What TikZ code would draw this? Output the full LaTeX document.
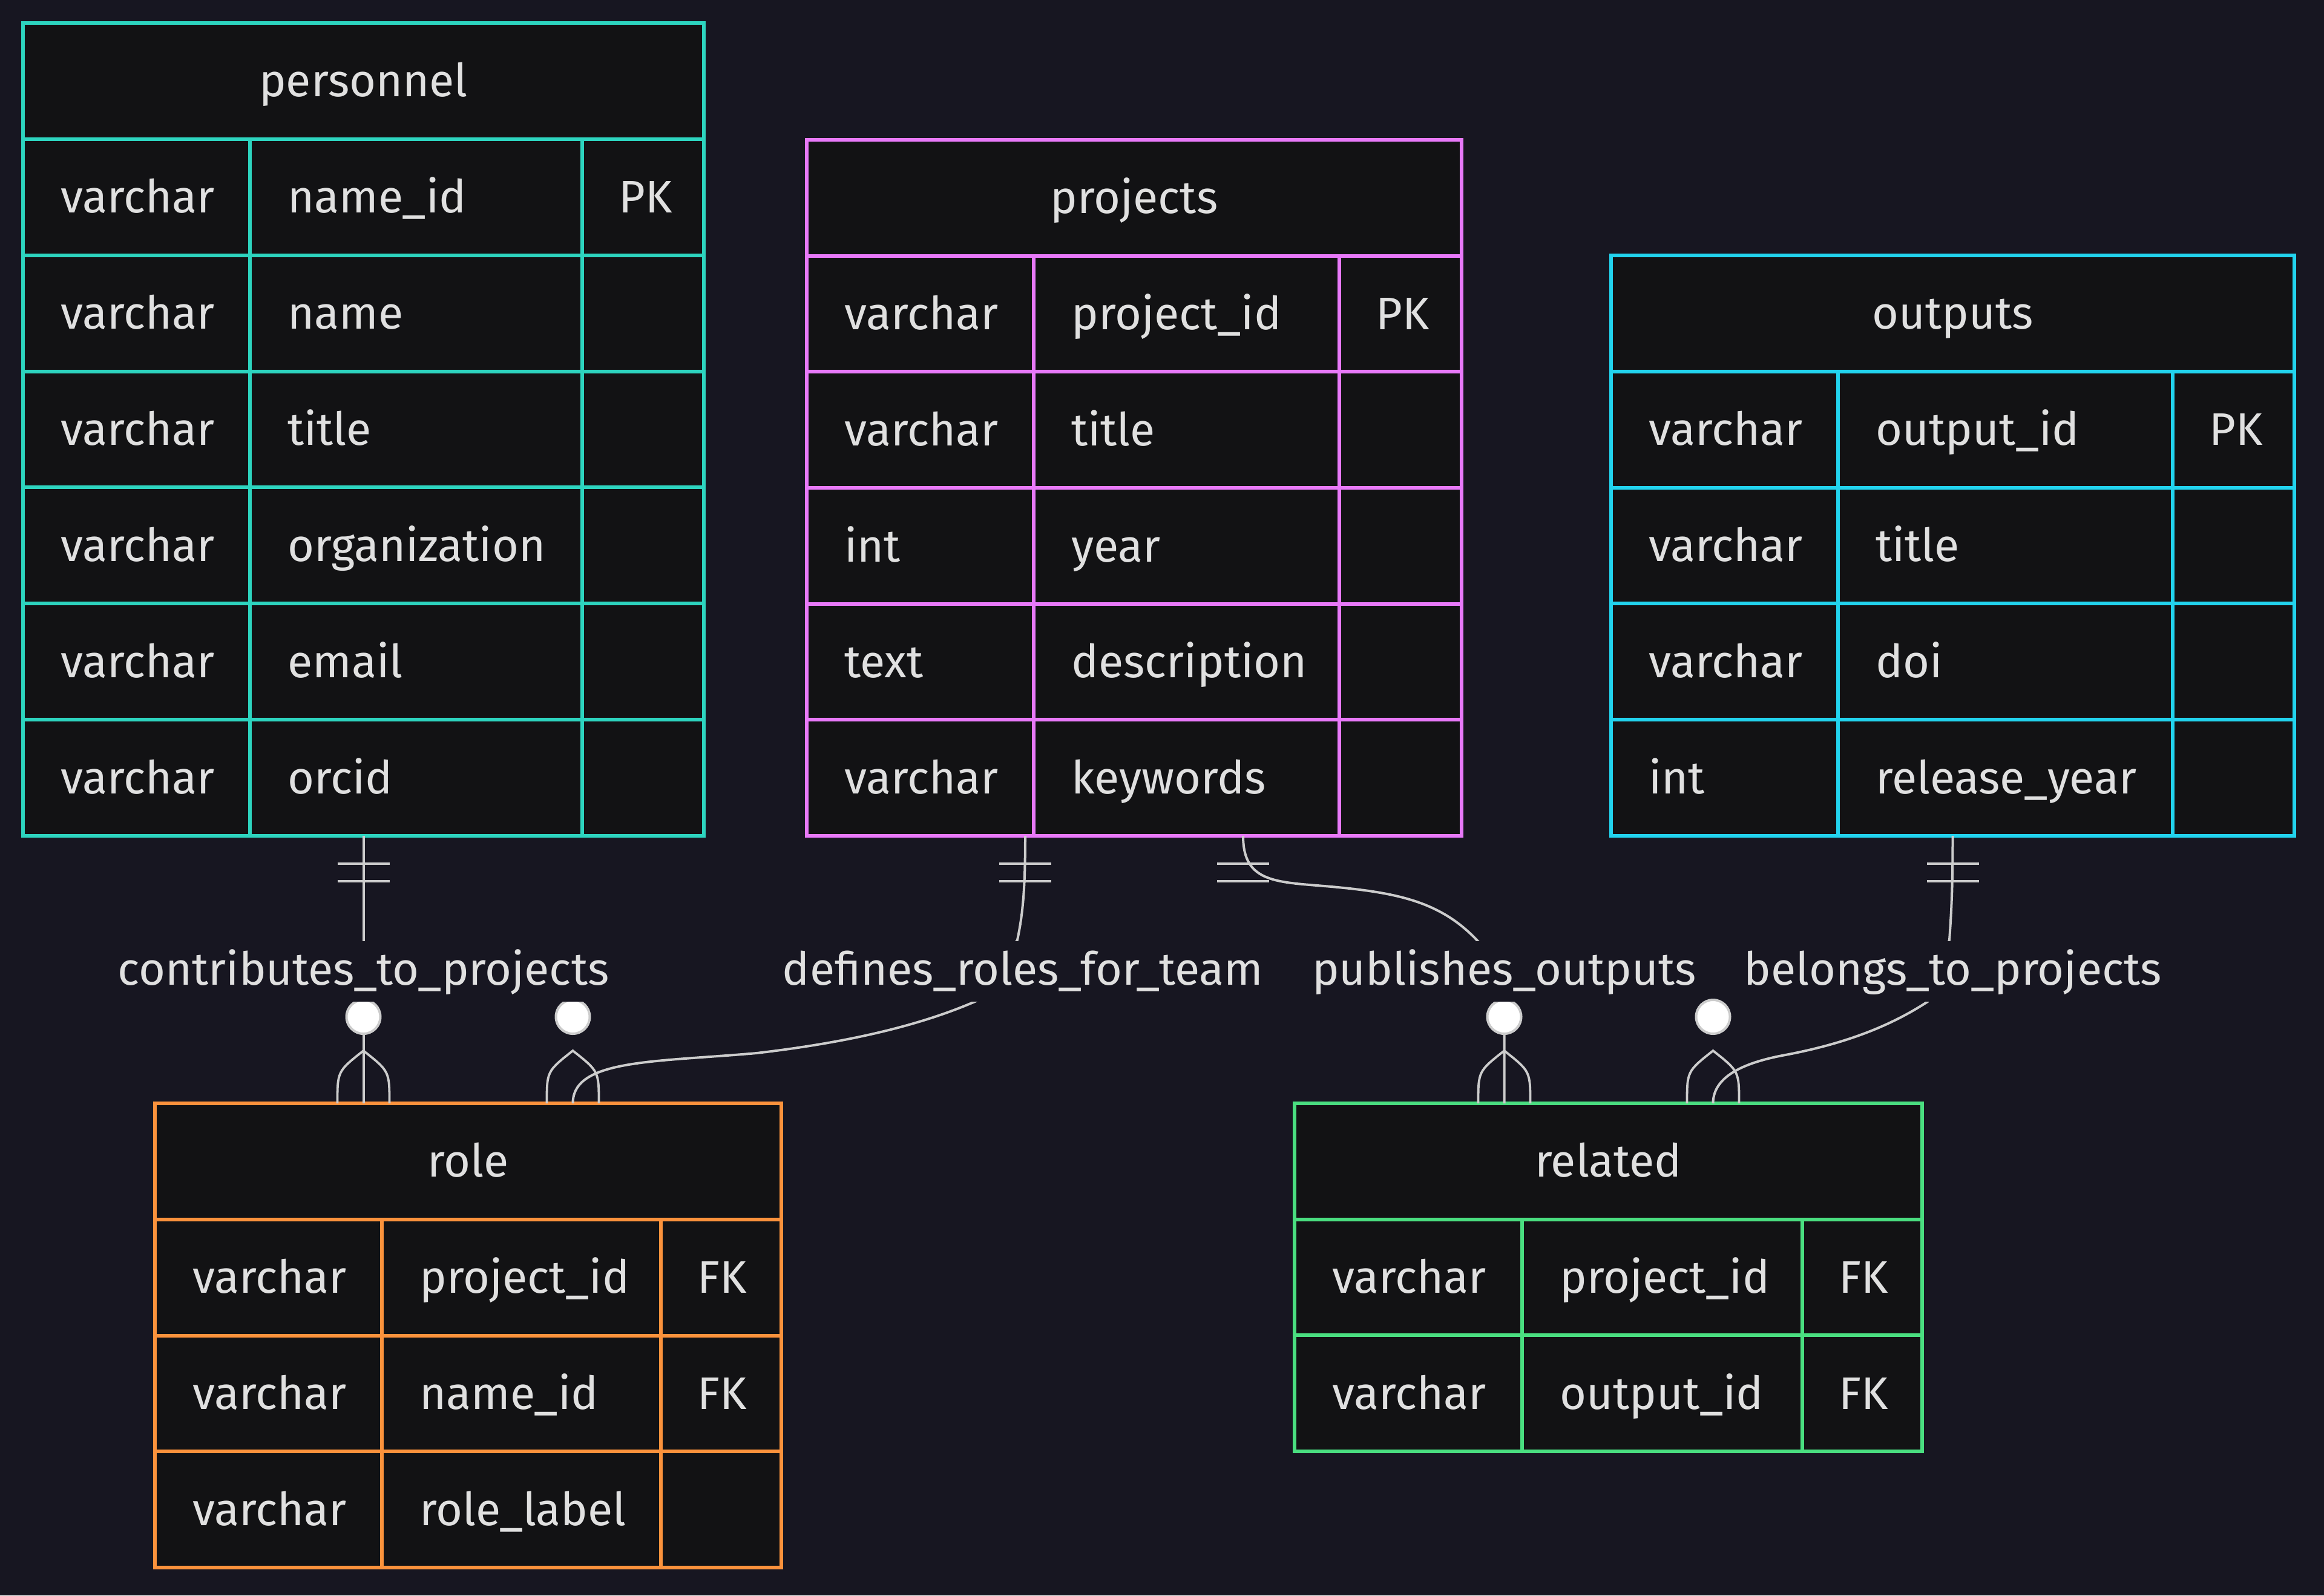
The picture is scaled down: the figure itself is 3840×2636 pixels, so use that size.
\documentclass[tikz,border=0pt]{standalone}
\usepackage{fontspec}
\setmainfont{Fira Sans}
\usetikzlibrary{calc}
\definecolor{bgc}{RGB}{23,22,33}
\definecolor{cellbg}{RGB}{18,18,20}
\definecolor{cteal}{RGB}{45,212,191}
\definecolor{cpink}{RGB}{232,121,249}
\definecolor{ccyan}{RGB}{34,211,238}
\definecolor{corange}{RGB}{251,146,60}
\definecolor{cgreen}{RGB}{74,222,128}
\definecolor{lgray}{RGB}{204,204,204}
\definecolor{txt}{RGB}{224,224,224}
\newcommand\erfont{\fontsize{37.7pt}{44pt}\selectfont}
\newcommand\onemark[1]{\draw[tickm] ($(#1)+(-43,46)$) -- ($(#1)+(43,46)$) ($(#1)+(-43,75)$) -- ($(#1)+(43,75)$);}
\newcommand\manymark[1]{\draw[leg] ($(#1)+(-43,0)$) .. controls ($(#1)+(-43,-53)$) .. ($(#1)+(0,-87)$) .. controls ($(#1)+(43,-53)$) .. ($(#1)+(43,0)$);
  \draw[zcirc] ($(#1)+(0,-143)$) circle[radius=14pt];}
\begin{document}
\begin{tikzpicture}[x=0.5pt,y=-0.5pt,
  ertab/.style={draw=#1, fill=cellbg, line width=3pt, rectangle, inner sep=0pt, outer sep=0pt},
  gline/.style={draw=#1, line width=3pt},
  cell/.style={text=txt, font=\erfont, inner sep=0pt, anchor=base west},
  hcell/.style={text=txt, font=\erfont, inner sep=0pt, anchor=base},
  conn/.style={draw=lgray, line width=2pt},
  tickm/.style={draw=lgray, line width=2.4pt},
  leg/.style={draw=lgray, line width=1.9pt},
  zcirc/.style={draw=lgray, fill=white, line width=2pt},
  elabel/.style={fill=bgc, text=txt, font=\erfont, inner xsep=0pt, inner ysep=0pt, minimum height=50pt, text height=28pt, text depth=6pt},
]
\fill[bgc] (0,0) rectangle (3840,2636);
\useasboundingbox (0,0) rectangle (3840,2636);

% ---------- personnel ----------
\node[ertab=cteal, minimum width=562.5pt, minimum height=671.5pt] (personnel) at (600.5,709.5) {};
\foreach \k in {1,...,6} \draw[gline=cteal] (38,{38+\k*191.86}) -- (1163,{38+\k*191.86});
\draw[gline=cteal] (413,229.86) -- (413,1381) (962,229.86) -- (962,1381);
\node[hcell] (pe-h) at (600.5,159) {personnel};
\foreach \t/\n [count=\i] in {varchar/name\_id, varchar/name, varchar/title, varchar/organization, varchar/email, varchar/orcid}{
  \node[cell] (pe-t\i) at (100,{38+\i*191.86+122}) {\t};
  \node[cell] (pe-n\i) at (475,{38+\i*191.86+122}) {\n};
}
\node[cell] (pe-k1) at (1022,{38+191.86+122}) {PK};

% ---------- projects ----------
\node[ertab=cpink, minimum width=541pt, minimum height=575pt] (projects) at (1874,806) {};
\foreach \k in {1,...,5} \draw[gline=cpink] (1333,{231+\k*191.67}) -- (2415,{231+\k*191.67});
\draw[gline=cpink] (1708,422.67) -- (1708,1381) (2213,422.67) -- (2213,1381);
\node[hcell] (pr-h) at (1874,352) {projects};
\foreach \t/\n [count=\i] in {varchar/project\_id, varchar/title, int/year, text/description, varchar/keywords}{
  \node[cell] (pr-t\i) at (1395,{231+\i*191.67+122}) {\t};
  \node[cell] (pr-n\i) at (1770,{231+\i*191.67+122}) {\n};
}
\node[cell] (pr-k1) at (2273,{231+191.67+122}) {PK};

% ---------- outputs ----------
\node[ertab=ccyan, minimum width=564.5pt, minimum height=479.5pt] (outputs) at (3226.5,901.5) {};
\foreach \k in {1,...,4} \draw[gline=ccyan] (2662,{422+\k*191.8}) -- (3791,{422+\k*191.8});
\draw[gline=ccyan] (3037,613.8) -- (3037,1381) (3590,613.8) -- (3590,1381);
\node[hcell] (ou-h) at (3226.5,543) {outputs};
\foreach \t/\n [count=\i] in {varchar/output\_id, varchar/title, varchar/doi, int/release\_year}{
  \node[cell] (ou-t\i) at (2724,{422+\i*191.8+122}) {\t};
  \node[cell] (ou-n\i) at (3099,{422+\i*191.8+122}) {\n};
}
\node[cell] (ou-k1) at (3650,{422+191.8+122}) {PK};

% ---------- role ----------
\node[ertab=corange, minimum width=517.5pt, minimum height=383.5pt] (role) at (773.5,2206.5) {};
\foreach \k in {1,...,3} \draw[gline=corange] (256,{1823+\k*191.75}) -- (1291,{1823+\k*191.75});
\draw[gline=corange] (631,2014.75) -- (631,2590) (1092,2014.75) -- (1092,2590);
\node[hcell] (ro-h) at (773.5,1944) {role};
\foreach \t/\n [count=\i] in {varchar/project\_id, varchar/name\_id, varchar/role\_label}{
  \node[cell] (ro-t\i) at (318,{1823+\i*191.75+122}) {\t};
  \node[cell] (ro-n\i) at (693,{1823+\i*191.75+122}) {\n};
}
\node[cell] (ro-k1) at (1152,{1823+191.75+122}) {FK};
\node[cell] (ro-k2) at (1152,{1823+2*191.75+122}) {FK};

% ---------- related ----------
\node[ertab=cgreen, minimum width=518.5pt, minimum height=287.5pt] (related) at (2657.5,2110.5) {};
\foreach \k in {1,2} \draw[gline=cgreen] (2139,{1823+\k*191.67}) -- (3176,{1823+\k*191.67});
\draw[gline=cgreen] (2515,2014.67) -- (2515,2398) (2978,2014.67) -- (2978,2398);
\node[hcell] (re-h) at (2657.5,1944) {related};
\foreach \t/\n [count=\i] in {varchar/project\_id, varchar/output\_id}{
  \node[cell] (re-t\i) at (2201,{1823+\i*191.67+122}) {\t};
  \node[cell] (re-n\i) at (2577,{1823+\i*191.67+122}) {\n};
}
\node[cell] (re-k1) at (3038,{1823+191.67+122}) {FK};
\node[cell] (re-k2) at (3038,{1823+2*191.67+122}) {FK};

% ---------- connector end points ----------
\coordinate (s1) at (personnel.south);
\coordinate (e1) at ($(role.north)+(-173,0)$);
\coordinate (s2) at ($(projects.south)+(-180,0)$);
\coordinate (e2) at ($(role.north)+(173,0)$);
\coordinate (s3) at ($(projects.south)+(180,0)$);
\coordinate (e3) at ($(related.north)+(-172,0)$);
\coordinate (s4) at (outputs.south);
\coordinate (e4) at ($(related.north)+(173,0)$);

% ---------- connectors ----------
\draw[conn] (s1) -- (e1);
\draw[conn] (s2) .. controls (1694,1470) and (1690,1510) .. (1681,1553) -- (1613,1654)
  .. controls (1503,1702) and (1370,1726) .. (1250,1740)
  .. controls (1080,1755) and (946.5,1750) .. (e2);
\draw[conn] (s3) .. controls (2054,1460) and (2110,1457) .. (2200,1465)
  .. controls (2310,1475) and (2380,1490) .. (2440,1553) -- (2485.5,1603) -- (e3);
\draw[conn] (s4) .. controls (3226.5,1470) and (3224,1510) .. (3221,1553) -- (3185,1655)
  .. controls (3115,1701) and (3035,1727) .. (2950,1743)
  .. controls (2890,1754) and (2830.5,1775) .. (e4);

% ---------- markers ----------
\onemark{s1}\onemark{s2}\onemark{s3}\onemark{s4}
\manymark{e1}\manymark{e2}\manymark{e3}\manymark{e4}

% ---------- labels ----------
\node[elabel] (l1) at (600.5,1605) {contributes\_to\_projects};
\node[elabel] (l2) at (1690,1605) {defines\_roles\_for\_team};
\node[elabel] (l3) at (2485.5,1605) {publishes\_outputs};
\node[elabel] (l4) at (3226.5,1605) {belongs\_to\_projects};
\end{tikzpicture}
\end{document}
